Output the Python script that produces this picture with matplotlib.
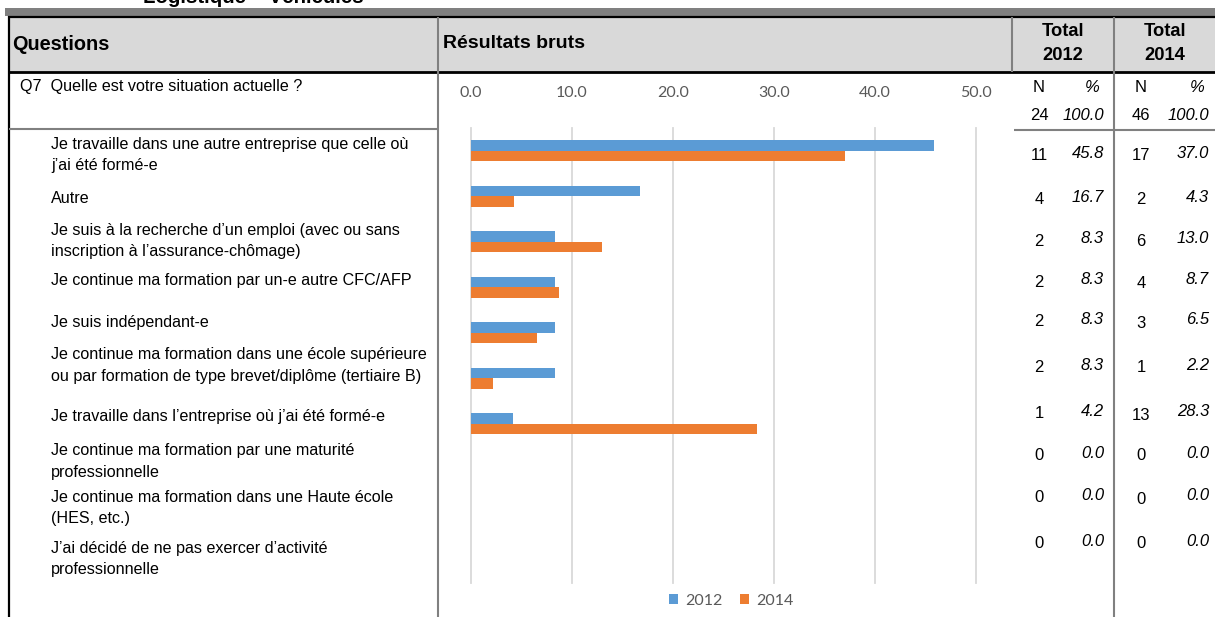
import matplotlib
matplotlib.use("Agg")
import matplotlib.pyplot as plt
from matplotlib.patches import Rectangle
from matplotlib.lines import Line2D

# ---------------- data ----------------
categories = [
    "Je travaille dans une autre entreprise que celle où\nj’ai été formé-e",
    "Autre",
    "Je suis à la recherche d’un emploi (avec ou sans\ninscription à l’assurance-chômage)",
    "Je continue ma formation par un-e autre CFC/AFP",
    "Je suis indépendant-e",
    "Je continue ma formation dans une école supérieure\nou par formation de type brevet/diplôme (tertiaire B)",
    "Je travaille dans l’entreprise où j’ai été formé-e",
    "Je continue ma formation par une maturité\nprofessionnelle",
    "Je continue ma formation dans une Haute école\n(HES, etc.)",
    "J’ai décidé de ne pas exercer d’activité\nprofessionnelle",
]
pct_2012 = [45.8, 16.7, 8.3, 8.3, 8.3, 8.3, 4.2, 0.0, 0.0, 0.0]
pct_2014 = [37.0, 4.3, 13.0, 8.7, 6.5, 2.2, 28.3, 0.0, 0.0, 0.0]
n_2012 = [11, 4, 2, 2, 2, 2, 1, 0, 0, 0]
n_2014 = [17, 2, 6, 4, 3, 1, 13, 0, 0, 0]
total_n = [24, 46]
total_pct = [100.0, 100.0]
series_labels = ["2012", "2014"]
x_ticks = [0, 10, 20, 30, 40, 50]
title_text = "Logistique – Véhicules"
question_text = "Q7  Quelle est votre situation actuelle ?"

# ---------------- layout ----------------
W, H = 1215, 617
fig = plt.figure(figsize=(W / 100, H / 100), dpi=100)


def fx(x):
    return x / W


def fy(y):
    return 1 - y / H


TXT = ["Liberation Sans", "DejaVu Sans"]
CHART_FONT = ["Lato", "DejaVu Sans"]
BLUE = "#5B9BD5"
ORANGE = "#ED7D31"
GRAY_LINE = "#808080"

# top partial title and gray band
fig.text(fx(143), fy(3), title_text, fontsize=14.7, fontweight="bold",
         family=TXT, ha="left", va="baseline")
fig.patches.append(Rectangle((fx(5), fy(16)), fx(W) - fx(5), (16 - 8) / H,
                             transform=fig.transFigure, color=GRAY_LINE, lw=0))
# header fill
fig.patches.append(Rectangle((fx(9), fy(72)), fx(W) - fx(9), (72 - 17) / H,
                             transform=fig.transFigure, color="#D9D9D9", lw=0))


def hline(y, x0, x1, color, lw):
    fig.lines.append(Line2D([fx(x0), fx(x1)], [fy(y), fy(y)], color=color,
                            lw=lw, transform=fig.transFigure, solid_capstyle="butt"))


def vline(x, y0, y1, color, lw):
    fig.lines.append(Line2D([fx(x), fx(x)], [fy(y0), fy(y1)], color=color,
                            lw=lw, transform=fig.transFigure, solid_capstyle="butt"))


# borders
hline(17, 8, W, "black", 1.6)
hline(72, 8, W, "black", 2.0)
vline(9, 16, H, "black", 1.6)
vline(438, 17, H, GRAY_LINE, 1.5)
vline(1012, 17, 72, GRAY_LINE, 1.5)
vline(1114, 17, H, GRAY_LINE, 1.5)
hline(129, 9, 438, GRAY_LINE, 1.5)
hline(130, 1014, W, GRAY_LINE, 1.5)

# header texts
fig.text(fx(12), fy(44), "Questions", fontsize=14.3, fontweight="bold",
         family=TXT, ha="left", va="center")
fig.text(fx(443), fy(44), "Résultats bruts", fontsize=14, fontweight="bold",
         family=TXT, ha="left", va="center")
for cx, lab in zip([1063, 1165], series_labels):
    fig.text(fx(cx), fy(31), "Total", fontsize=13.2, fontweight="bold",
             family=TXT, ha="center", va="center")
    fig.text(fx(cx), fy(55), lab, fontsize=13.2, fontweight="bold",
             family=TXT, ha="center", va="center")

LAB_FS = 11.6
NUM_FS = 12

fig.text(fx(20), fy(86), question_text, fontsize=LAB_FS, family=TXT,
         ha="left", va="center")

# N / % sub header
n_cols = [1039, 1141]
p_cols = [1104, 1209]
for i in range(2):
    fig.text(fx(n_cols[i]), fy(87), "N", fontsize=NUM_FS, family=TXT,
             ha="center", va="center")
    fig.text(fx(p_cols[i] - 12), fy(87), "%", fontsize=NUM_FS, family=TXT,
             style="italic", ha="center", va="center")
    fig.text(fx(n_cols[i]), fy(115), f"{total_n[i]}", fontsize=NUM_FS,
             family=TXT, ha="center", va="center")
    fig.text(fx(p_cols[i]), fy(115), f"{total_pct[i]:.1f}", fontsize=NUM_FS,
             family=TXT, style="italic", ha="right", va="center")

# row labels + table values
row_first_line = [144, 198, 230, 280, 322, 355, 416, 451, 497, 548]
value_rows = [155, 199, 241, 282, 322, 367, 414, 455, 498, 543]
line_step = 21.5
for lab, y0, yc, a, b, c, d in zip(categories, row_first_line, value_rows,
                                   n_2012, pct_2012, n_2014, pct_2014):
    lines = lab.split("\n")
    for k, ln in enumerate(lines):
        fig.text(fx(51), fy(y0 + k * line_step), ln, fontsize=LAB_FS,
                 family=TXT, ha="left", va="center")
    fig.text(fx(n_cols[0]), fy(yc), f"{a}", fontsize=NUM_FS, family=TXT,
             ha="center", va="center")
    fig.text(fx(p_cols[0]), fy(yc - 2), f"{b:.1f}", fontsize=NUM_FS,
             family=TXT, style="italic", ha="right", va="center")
    fig.text(fx(n_cols[1]), fy(yc + 1), f"{c}", fontsize=NUM_FS, family=TXT,
             ha="center", va="center")
    fig.text(fx(p_cols[1]), fy(yc - 2), f"{d:.1f}", fontsize=NUM_FS,
             family=TXT, style="italic", ha="right", va="center")

# ---------------- bar chart ----------------
ax = fig.add_axes([fx(471), fy(583), fx(976) - fx(471), (583 - 128) / H])
ypos = list(range(len(categories)))
h = 0.235
b1 = ax.barh([y - h / 2 for y in ypos], pct_2012, height=h, color=BLUE,
             label=series_labels[0], zorder=3)
b2 = ax.barh([y + h / 2 for y in ypos], pct_2014, height=h, color=ORANGE,
             label=series_labels[1], zorder=3)
ax.set_xlim(x_ticks[0], x_ticks[-1])
ax.set_ylim(len(categories) - 0.5, -0.5)
ax.set_xticks(x_ticks)
ax.set_xticklabels([f"{t:.1f}" for t in x_ticks], family=CHART_FONT,
                   fontsize=11.5, color="#595959")
ax.xaxis.tick_top()
ax.tick_params(axis="x", length=0, pad=20)
ax.set_yticks([])
ax.grid(axis="x", color="#D9D9D9", lw=1.3, zorder=0)
for gl in ax.get_xgridlines():
    gl.set_clip_on(False)
for s in ax.spines.values():
    s.set_visible(False)
ax.patch.set_alpha(0)

fig.legend(handles=[b1, b2], labels=series_labels, loc="center",
           bbox_to_anchor=(fx(731), fy(601)), ncol=2, frameon=False,
           prop={"family": CHART_FONT, "size": 11.5},
           labelcolor="#595959", handlelength=0.6, handleheight=0.6,
           columnspacing=1.1, handletextpad=0.4)

fig.savefig("out.png", dpi=100)
